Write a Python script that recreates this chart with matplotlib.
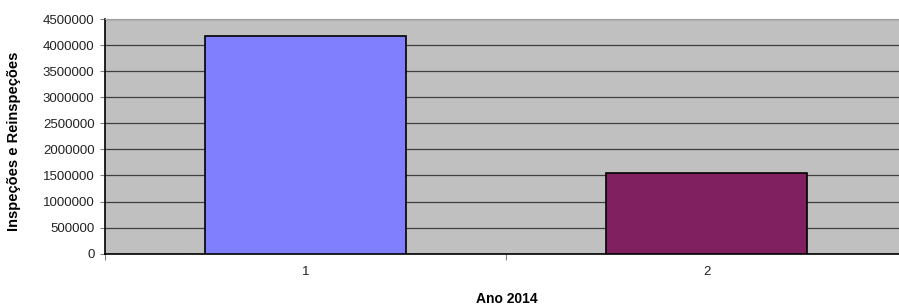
import matplotlib.pyplot as plt
import matplotlib.ticker as mticker
import numpy as np

# dados
categorias = ['1', '2']
valores = [4180000, 1547000]
cores = ['#8080FF', '#802060']

plt.rcParams['font.family'] = ['Liberation Sans', 'DejaVu Sans']

fig = plt.figure(figsize=(8.99, 3.07), dpi=100)
ax = fig.add_axes([105 / 899, (307 - 253.7) / 307, 802 / 899, 234.7 / 307])
ax.set_facecolor('#C0C0C0')

x = np.arange(len(categorias))
ax.bar(x, valores, width=0.5, color=cores, edgecolor='black', linewidth=1.2, zorder=3)

ax.set_xlim(-0.5, len(categorias) - 0.5)
ax.set_ylim(0, 4500000)
ax.set_yticks(np.arange(0, 4500001, 500000))
ax.yaxis.set_major_formatter(mticker.FuncFormatter(lambda v, p: '%d' % v))
ax.yaxis.grid(True, color='#404040', linewidth=0.9, zorder=1)

# ticks nas divisas das categorias, rótulos no centro
ax.set_xticks(np.arange(-0.5, len(categorias), 1.0))
ax.set_xticklabels([])
ax.set_xticks(x, minor=True)
ax.set_xticklabels(categorias, minor=True)
ax.tick_params(axis='x', which='major', length=4, color='#808080')
ax.tick_params(axis='x', which='minor', length=0, pad=9, labelsize=9.5, labelcolor='#222222')
ax.tick_params(axis='y', length=3.6, color='#808080', labelsize=9.5, labelcolor='#222222', pad=4)

for s in ['left', 'bottom']:
    ax.spines[s].set_color('black')
    ax.spines[s].set_linewidth(1.2)
ax.spines['top'].set_color('#A0A0A0')
ax.spines['right'].set_visible(False)

ax.set_ylabel('Inspeções e Reinspeções', fontsize=10.5, fontweight='bold')
ax.yaxis.set_label_coords((21 - 105) / 802, (253.7 - 141) / 234.7)
ax.set_xlabel('Ano 2014', fontsize=10, fontweight='bold')
ax.xaxis.set_label_coords((507 - 105) / 802, -(292 - 253.7) / 234.7)

fig.savefig('out.png', dpi=100)
